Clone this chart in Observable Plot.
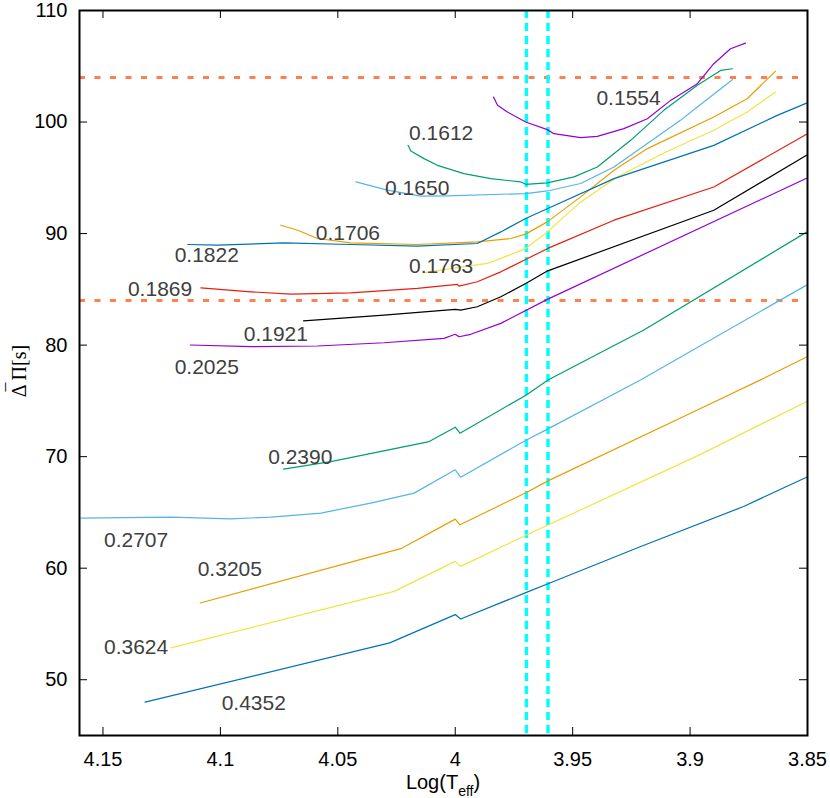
<!DOCTYPE html>
<html><head><meta charset="utf-8">
<script src="https://cdn.jsdelivr.net/npm/d3@7"></script>
<script src="https://cdn.jsdelivr.net/npm/@observablehq/plot@0.6"></script>
<style>body{margin:0;background:#fff}</style>
</head><body><div id="chart"></div>
<script>
// ---- data ----
const xTicks = [4.15, 4.1, 4.05, 4, 3.95, 3.9, 3.85];
const yTicks = [50, 60, 70, 80, 90, 100, 110];
const masses = ["0.1554","0.1612","0.1650","0.1706","0.1763","0.1822","0.1869","0.1921","0.2025","0.2390","0.2707","0.3205","0.3624","0.4352"];
const colors = ["#9400d3","#009e73","#56b4e9","#e69f00","#f0e442","#0072b2","#e51e10","#000000","#9400d3","#009e73","#56b4e9","#e69f00","#f0e442","#0072b2"];

const track_1554 = [[3.9837,102.24],[3.982,101.50],[3.9778,100.90],[3.97,100.0],[3.9608,99.32],[3.958,98.96],[3.9466,98.60],[3.9395,98.72],[3.9282,99.41],[3.9182,100.30],[3.9083,101.94],[3.8969,103.44],[3.8899,105.23],[3.8828,106.57],[3.8764,107.07]];
const track_1612 = [[4.0201,97.91],[4.0189,97.40],[4.0133,96.72],[4.0076,96.12],[3.9963,95.38],[3.9849,94.93],[3.9721,94.63],[3.97,94.42],[3.9608,94.54],[3.9494,95.08],[3.9395,95.97],[3.9253,98.36],[3.9112,101.05],[3.8969,103.29],[3.887,104.63],[3.882,104.78]];
const track_1650 = [[4.0423,94.63],[4.0289,93.89],[4.0147,93.35],[4.0033,93.38],[3.97,93.59],[3.9608,93.82],[3.9466,94.49],[3.9324,95.97],[3.9182,98.07],[3.9041,100.15],[3.8969,101.34],[3.882,103.80]];
const track_1706 = [[4.0743,90.75],[4.0671,90.30],[4.0586,89.56],[4.0445,89.17],[4.0161,89.02],[3.9906,89.26],[3.9764,89.56],[3.97,89.95],[3.9608,91.05],[3.9466,93.29],[3.9324,95.68],[3.9182,97.62],[3.8899,100.45],[3.8757,102.09],[3.8636,104.57]];
const track_1763 = [[4.0133,86.48],[4.0062,86.72],[3.9948,87.08],[3.9863,87.32],[3.9735,88.36],[3.97,88.67],[3.9608,90.15],[3.9466,92.84],[3.931,95.08],[3.9112,97.22],[3.8899,99.26],[3.8757,100.90],[3.8636,102.69]];
const track_1822 = [[4.1139,89.02],[4.1012,88.96],[4.0728,89.17],[4.0445,89.02],[4.0161,88.87],[3.9906,89.11],[3.9806,90.15],[3.97,91.35],[3.9606,92.25],[3.9324,94.93],[3.8899,97.91],[3.8629,100.60],[3.8504,101.70]];
const track_1869 = [[4.1083,85.14],[4.087,84.78],[4.07,84.57],[4.0445,84.69],[4.0161,85.08],[3.9991,85.44],[3.9984,85.29],[3.9906,85.68],[3.9806,86.57],[3.97,87.68],[3.9606,88.67],[3.9324,91.20],[3.8899,94.18],[3.8504,98.90]];
const track_1921 = [[4.0646,82.18],[4.0303,82.69],[4.0,83.20],[3.9977,83.14],[3.9906,83.44],[3.9806,84.33],[3.97,85.53],[3.9606,86.66],[3.8899,92.09],[3.8504,97.02]];
const track_2025 = [[4.1128,80.01],[4.087,79.86],[4.0586,79.92],[4.0303,80.21],[4.0048,80.61],[4.0,80.97],[3.9984,80.75],[3.9934,80.97],[3.9806,81.95],[3.9608,84.10],[3.8504,94.96]];
const track_2390 = [[4.0731,68.88],[4.053,69.56],[4.0111,71.35],[4.0,72.64],[3.998,72.10],[3.9697,75.53],[3.9605,76.88],[3.9197,81.35],[3.8504,90.13]];
const track_2707 = [[4.1594,64.49],[4.1211,64.58],[4.0955,64.43],[4.0785,64.58],[4.0572,64.94],[4.036,65.84],[4.0175,66.73],[4.0,68.82],[3.9977,68.16],[3.9697,71.50],[3.9605,72.49],[3.9211,76.88],[3.8504,85.38]];
const track_3205 = [[4.1086,56.88],[4.0232,61.75],[4.0,64.40],[3.998,63.89],[3.9697,66.79],[3.9605,67.83],[3.8969,74.19],[3.870,76.88],[3.8504,78.93]];
const track_3624 = [[4.1211,52.86],[4.0260,57.92],[4.0,60.61],[3.9977,60.16],[3.9697,62.97],[3.9605,63.87],[3.8969,70.07],[3.8504,74.93]];
const track_4352 = [[4.1321,47.99],[4.0279,53.30],[4.0,55.84],[3.9977,55.45],[3.9697,57.83],[3.9605,58.61],[3.921,61.95],[3.8772,65.53],[3.8504,68.16]];

const labelX = [3.9262,4.006,4.0162,4.0457,4.006,4.1058,4.1257,4.0764,4.1058,4.066,4.1359,4.096,4.1359,4.0858];
const labelY = [102.1,99.03,94.06,90.01,87.08,88.02,85.02,81.0,78.04,69.98,62.51,59.91,52.91,47.89];

const hLines = [104, 84];
const vLines = [3.9697, 3.9605];

// ---- build ----
const tracks = [track_1554,track_1612,track_1650,track_1706,track_1763,track_1822,track_1869,track_1921,track_2025,track_2390,track_2707,track_3205,track_3624,track_4352];
const rows = tracks.flatMap((t, i) => t.map(([x, y]) => ({mass: masses[i], x, y})));
const labels = masses.map((m, i) => ({mass: m, x: labelX[i], y: labelY[i]}));

const W = 830, H = 798, mL = 79, mR = 23, mT = 10, mB = 63;
const iw = W - mL - mR, ih = H - mT - mB;
const sans = "'Liberation Sans', Arial, Helvetica, sans-serif";

const chart = Plot.plot({
  width: W, height: H,
  marginLeft: mL, marginRight: mR, marginTop: mT, marginBottom: mB,
  style: {fontFamily: sans, fontSize: "20px", color: "black", background: "white"},
  x: {domain: [4.16, 3.85], label: null},
  y: {domain: [45, 110], label: null},
  color: {domain: masses, range: colors},
  marks: [
    Plot.ruleY(hLines, {y: d => d, stroke: "#ff7f50", strokeWidth: 3, strokeDasharray: "6,9.5"}),
    Plot.ruleX(vLines, {x: d => d, stroke: "#00ffff", strokeWidth: 3.5, strokeDasharray: "8,5"}),
    Plot.line(rows, {x: "x", y: "y", z: "mass", stroke: "mass", strokeWidth: 1.2}),
    Plot.text(labels, {x: "x", y: "y", text: "mass", fill: "#404040", fontSize: 21}),
    Plot.tickY(yTicks, {y: d => d, insetRight: iw - 8, stroke: "black"}),
    Plot.tickY(yTicks, {y: d => d, insetLeft: iw - 8, stroke: "black"}),
    Plot.tickX(xTicks, {x: d => d, insetTop: ih - 8, stroke: "black"}),
    Plot.tickX(xTicks, {x: d => d, insetBottom: ih - 8, stroke: "black"}),
    Plot.axisX({ticks: xTicks, tickSize: 0, tickPadding: 16, tickFormat: d => String(d), fontSize: 20, label: null}),
    Plot.axisY({ticks: yTicks, tickSize: 0, tickPadding: 12, tickFormat: d => String(d), fontSize: 20, label: null}),
    Plot.frame({stroke: "black", strokeWidth: 2})
  ]
});
document.getElementById("chart").appendChild(chart);

const svg = d3.select(chart);
// x-axis title with subscript
const xl = svg.append("text").attr("x", 443).attr("y", 789)
  .attr("text-anchor", "middle").attr("font-family", sans).attr("font-size", 20).attr("fill", "black");
xl.append("tspan").text("Log(T");
xl.append("tspan").attr("font-size", 14).attr("dy", 7).text("eff");
xl.append("tspan").attr("dy", -7).text(")");
// y-axis title (serif)
const serif = "'Liberation Serif', 'DejaVu Serif', serif";
svg.append("text").attr("transform", "translate(26,371) rotate(-90)")
  .attr("text-anchor", "middle").attr("font-family", serif).attr("font-size", 20).attr("fill", "black")
  .text("Δ Π[s]");
svg.append("text").attr("transform", "translate(19,387) rotate(-90)")
  .attr("text-anchor", "middle").attr("font-family", serif).attr("font-size", 18).attr("fill", "black")
  .text("¯");
</script>
</body></html>
